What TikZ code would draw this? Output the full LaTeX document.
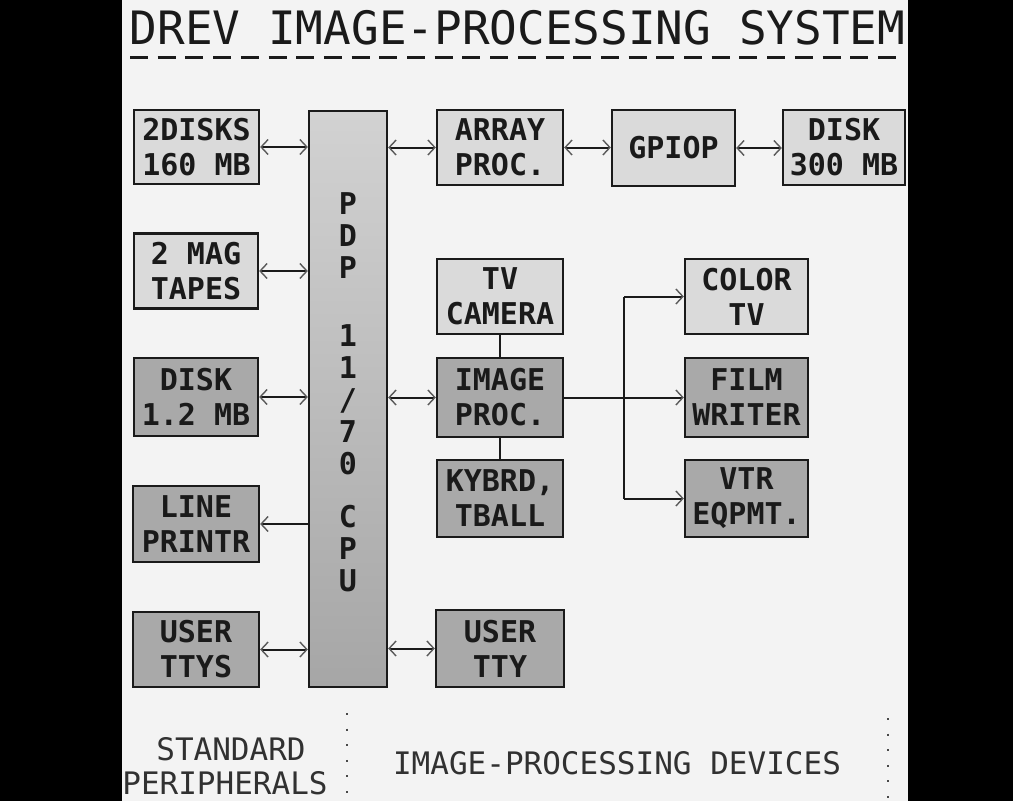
\documentclass[tikz,border=0pt]{standalone}
\usepackage{fontspec}
\newfontfamily\monofont{DejaVu Sans Mono}
\usetikzlibrary{arrows.meta}
\definecolor{bgc}{HTML}{F3F3F3}
\definecolor{lightbox}{HTML}{DADADA}
\definecolor{darkbox}{HTML}{A9A9A9}
\definecolor{inkc}{HTML}{1A1A1A}
\definecolor{pdptop}{HTML}{D2D2D2}
\definecolor{pdpbot}{HTML}{A6A6A6}
\tikzset{
  boxbase/.style={draw=inkc, line width=2.3pt, inner sep=0pt, align=center,
    text=inkc, font=\monofont\bfseries\fontsize{30}{35}\selectfont},
  litebox/.style={boxbase, fill=lightbox},
  darkbx/.style={boxbase, fill=darkbox},
  tipx/.tip={Straight Barb[length=7pt,width=15pt,line width=1.4pt,color=gray!70!black]},
  conn/.style={draw=inkc, line width=2pt},
  biconn/.style={conn, tipx-tipx},
  oneconn/.style={conn, -tipx},
  thinlabel/.style={text=inkc!90, font=\monofont\fontsize{31}{36}\selectfont, inner sep=0pt},
  pdptext/.style={text=inkc, font=\monofont\bfseries\fontsize{30}{32}\selectfont, align=center, inner sep=0pt},
  dotline/.style={draw=inkc!80, line width=2pt, dash pattern=on 2pt off 13.6pt}
}
\begin{document}
\begin{tikzpicture}[x=1pt,y=-1pt]
\useasboundingbox (0,0) rectangle (1013,801);
\fill[bgc] (0,0) rectangle (1013,801);
\fill[black] (0,0) rectangle (122,801);
\fill[black] (908,0) rectangle (1013,801);

% title
\node[text=inkc, font=\monofont\fontsize{46}{50}\selectfont, inner sep=0pt] (title) at (517.5,28) {DREV IMAGE-PROCESSING SYSTEM};
\draw[draw=inkc, line width=3pt, dash pattern=on 18pt off 9.7pt] (130,57) -- (905,57);

% left column
\node[litebox, minimum width=125pt, minimum height=74pt] (d2) at (196.5,147) {2DISKS\\160 MB};
\node[litebox, minimum width=124pt, minimum height=75pt] (tapes) at (196,271) {2 MAG\\TAPES};
\node[darkbx, minimum width=124pt, minimum height=78pt] (disk12) at (196,397) {DISK\\1.2 MB};
\node[darkbx, minimum width=126pt, minimum height=76pt] (lp) at (196,524) {LINE\\PRINTR};
\node[darkbx, minimum width=126pt, minimum height=75pt] (ttys) at (196,649.5) {USER\\TTYS};

% CPU column
\node[draw=inkc, line width=2.3pt, top color=pdptop, bottom color=pdpbot, minimum width=78pt, minimum height=576pt, inner sep=0pt] (pdp) at (348,399) {};
\node[pdptext] (pdpa) at (348,236) {P\\D\\P};
\node[pdptext] (pdpb) at (348,400) {1\\1\\/\\7\\0};
\node[pdptext] (pdpc) at (348,549) {C\\P\\U};

% top row
\node[litebox, minimum width=126pt, minimum height=75pt] (array) at (500,147.5) {ARRAY\\PROC.};
\node[litebox, minimum width=123pt, minimum height=76pt] (gpiop) at (673.5,148) {GPIOP};
\node[litebox, minimum width=122pt, minimum height=75pt] (disk300) at (844,147.5) {DISK\\300 MB};

% image processing group
\node[litebox, minimum width=126pt, minimum height=75pt] (tvcam) at (500,296.5) {TV\\CAMERA};
\node[darkbx, minimum width=126pt, minimum height=79pt] (ip) at (500,397.5) {IMAGE\\PROC.};
\node[darkbx, minimum width=126pt, minimum height=77pt] (kb) at (500,498.5) {KYBRD,\\TBALL};
\node[litebox, minimum width=123pt, minimum height=75pt] (ctv) at (746.5,296.5) {COLOR\\TV};
\node[darkbx, minimum width=123pt, minimum height=79pt] (fw) at (746.5,397.5) {FILM\\WRITER};
\node[darkbx, minimum width=123pt, minimum height=77pt] (vtr) at (746.5,498.5) {VTR\\EQPMT.};
\node[darkbx, minimum width=128pt, minimum height=77pt] (tty) at (500,648.5) {USER\\TTY};

% connectors left
\draw[biconn] (d2.east) -- (pdp.west |- d2.east);
\draw[biconn] (tapes.east) -- (pdp.west |- tapes.east);
\draw[biconn] (disk12.east) -- (pdp.west |- disk12.east);
\draw[oneconn] (pdp.west |- lp.east) -- (lp.east);
\draw[biconn] (ttys.east) -- (pdp.west |- ttys.east);

% connectors right of CPU
\draw[biconn] (pdp.east |- array.west) -- (array.west);
\draw[biconn] (array.east) -- (gpiop.west |- array.east);
\draw[biconn] (gpiop.east) -- (disk300.west |- gpiop.east);
\draw[biconn] (pdp.east |- ip.west) -- (ip.west);
\draw[biconn] (pdp.east |- tty.west) -- (tty.west);

% image processor links
\draw[conn] (tvcam.south) -- (ip.north);
\draw[conn] (ip.south) -- (kb.north);
\coordinate (bus) at (624,397.5);
\draw[oneconn] (ip.east) -- (fw.west);
\draw[conn] (bus |- ctv.west) -- (bus |- vtr.west);
\draw[oneconn] (bus |- ctv.west) -- (ctv.west);
\draw[oneconn] (bus |- vtr.west) -- (vtr.west);

% bottom labels
\node[thinlabel] (std) at (231,749) {STANDARD};
\node[thinlabel] (per) at (225,783) {PERIPHERALS};
\node[thinlabel] (ipd) at (617,763) {IMAGE-PROCESSING DEVICES};
\draw[dotline] (347,713) -- (347,801);
\draw[dotline] (888,718) -- (888,801);
\end{tikzpicture}
\end{document}
